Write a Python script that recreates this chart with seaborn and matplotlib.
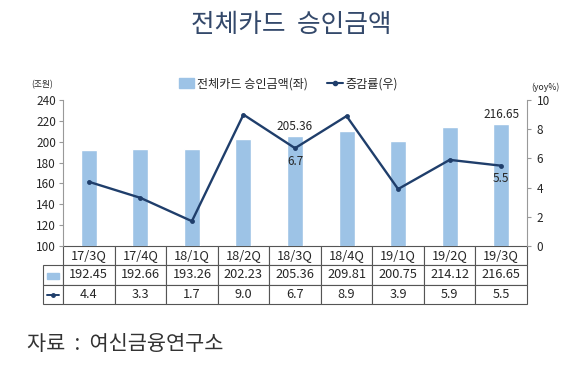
import numpy as np
import pandas as pd
import matplotlib
matplotlib.use("Agg")
import matplotlib.pyplot as plt
from matplotlib.lines import Line2D
from matplotlib.patches import Rectangle
import seaborn as sns

quarters = ["17/3Q", "17/4Q", "18/1Q", "18/2Q", "18/3Q", "18/4Q", "19/1Q", "19/2Q", "19/3Q"]
amount = [192.45, 192.66, 193.26, 202.23, 205.36, 209.81, 200.75, 214.12, 216.65]
growth = [4.4, 3.3, 1.7, 9.0, 6.7, 8.9, 3.9, 5.9, 5.5]
amount_label = "전체카드 승인금액(좌)"
growth_label = "증감률(우)"

bar_color = "#9dc3e6"
line_color = "#1f3e6b"
grid_color = "#555555"

df = pd.DataFrame({"quarter": quarters, "amount": amount, "growth": growth})

sns.set_style("white")
plt.rcParams["font.family"] = ["Noto Sans CJK KR", "DejaVu Sans"]

fig = plt.figure(figsize=(5.7, 3.71), dpi=100)
ax = fig.add_axes([63 / 570, 1 - 246 / 371, 464 / 570, 146 / 371])

sns.barplot(data=df, x="quarter", y="amount", color=bar_color, width=0.31,
            saturation=1, ax=ax)
ax.set_ylim(100, 240)
ax.set_yticks(range(100, 241, 20))
ax.set_xlim(-0.5, len(quarters) - 0.5)
ax.set_xlabel("")
ax.set_ylabel("")
ax.set_xticks([])
for s in ["top", "right", "bottom"]:
    ax.spines[s].set_visible(False)
ax.spines["left"].set_color("#999999")
ax.tick_params(axis="y", left=True, length=3, color="#999999", labelsize=8.5, pad=2)

ax2 = ax.twinx()
sns.lineplot(data=df, x="quarter", y="growth", color=line_color, marker="o",
             markersize=3.5, markeredgewidth=0, linewidth=1.7, ax=ax2, sort=False)
ax2.set_ylim(0, 10)
ax2.set_yticks(range(0, 11, 2))
ax2.set_ylabel("")
ax2.set_xlabel("")
ax2.set_xticks([])
for s in ["top", "left", "bottom"]:
    ax2.spines[s].set_visible(False)
ax2.spines["right"].set_color("#999999")
ax2.tick_params(axis="y", right=True, length=3, color="#999999", labelsize=8.5, pad=4)

# value annotations
ax.text(4, amount[4] + 3, f"{amount[4]:.2f}", ha="center", va="bottom", fontsize=8.5)
ax.text(8, amount[8] + 3, f"{amount[8]:.2f}", ha="center", va="bottom", fontsize=8.5)
ax2.text(4, growth[4] - 0.45, f"{growth[4]:.1f}", ha="center", va="top", fontsize=8.5)
ax2.text(8, growth[8] - 0.45, f"{growth[8]:.1f}", ha="center", va="top", fontsize=8.5)

# unit labels
fig.text(42 / 570, 1 - 85 / 371, "(조원)", fontsize=6.3, ha="center", va="center")
fig.text(545 / 570, 1 - 87 / 371, "(yoy%)", fontsize=6.3, ha="center", va="center")

# legend
handles = [Rectangle((0, 0), 1, 1, color=bar_color),
           Line2D([0], [0], color=line_color, marker="o", markersize=3, lw=1.5)]
fig.legend(handles, [amount_label, growth_label], loc="center",
           bbox_to_anchor=(288 / 570, 1 - 84 / 371), ncol=2, frameon=False,
           fontsize=8.7, handlelength=1.3, handleheight=0.9, handletextpad=0.2,
           columnspacing=1.6)

# data table (label column sits left of the grid bbox)
col_w = 1 / len(quarters)
lab_w = 20 / 464
tab = ax.table(cellText=[[f"{v:.2f}" for v in amount], [f"{v:.1f}" for v in growth]],
               colLabels=quarters, colWidths=[col_w] * len(quarters),
               cellLoc="center", bbox=[0, -58 / 146, 1, 58 / 146])
row_h = tab[1, 0].get_height()
tab.add_cell(1, -1, lab_w, row_h, text="")
tab.add_cell(2, -1, lab_w, row_h, text="")
tab.auto_set_font_size(False)
for (r, c), cell in tab.get_celld().items():
    cell.set_edgecolor(grid_color)
    cell.set_linewidth(0.8)
    cell.get_text().set_fontsize(9.2)

# legend keys inside the table's label column
ax.add_patch(Rectangle((-lab_w * 0.78, -0.228), lab_w * 0.56, 0.045,
                       transform=ax.transAxes, color=bar_color, clip_on=False))
ax.add_line(Line2D([-lab_w * 0.8, -lab_w * 0.2], [-0.335, -0.335], transform=ax.transAxes,
                   color=line_color, lw=1.4, clip_on=False))
ax.add_line(Line2D([-lab_w * 0.5], [-0.335], transform=ax.transAxes, color=line_color,
                   marker="o", markersize=2.5, clip_on=False))

fig.text(291 / 570, 1 - 25 / 371, "전체카드  승인금액", fontsize=18.5, ha="center",
         va="center", color="#34496b", fontweight="light")
fig.text(27 / 570, 1 - 344 / 371, "자료  :  여신금융연구소", fontsize=15, ha="left",
         va="center", color="#333333", fontweight="light")

fig.savefig("out.png", dpi=100)
